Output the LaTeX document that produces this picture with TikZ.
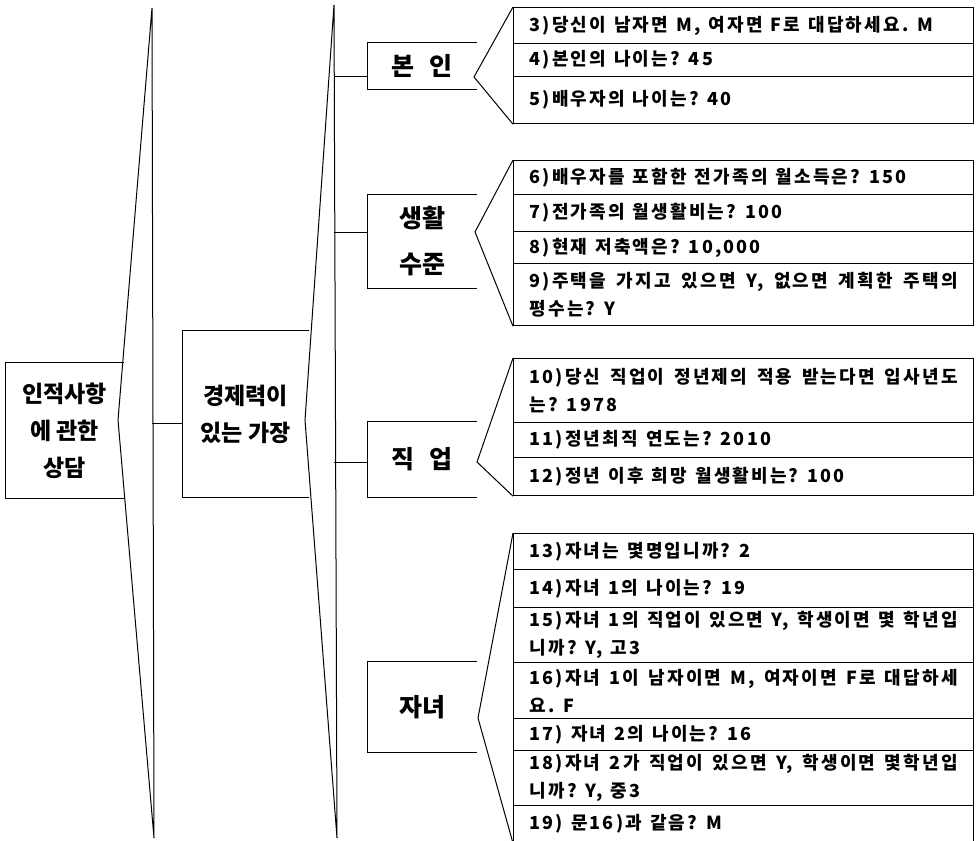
\documentclass[tikz,border=0pt]{standalone}
\usepackage{fontspec}
\setmainfont{Noto Sans CJK KR}
\newfontfamily\krwide{Noto Sans CJK KR}[LetterSpace=12]
\usetikzlibrary{positioning}
\newcommand{\spread}[1]{\hbox to 428pt{\spaceskip=0.25em plus 1fil\relax #1}}
\newcommand{\widespace}{\spaceskip=0.45em\relax}

\begin{document}
\begin{tikzpicture}[x=1pt, y=-1pt, line width=1pt,
        openbox/.style={draw=none, inner sep=0pt},
        bigtext/.style={font=\bfseries\fontsize{23}{37}\selectfont, align=center},
        labtext/.style={font=\bfseries\fontsize{25}{46}\selectfont, align=center},
        row/.style={draw, line width=1.2pt, anchor=north west, minimum width=460pt,
            text width=428pt, inner xsep=16pt, inner ysep=0pt, align=left,
            font=\krwide\bfseries\fontsize{18}{28}\selectfont,
            execute at begin node=\widespace}]

        \useasboundingbox (0,0) rectangle (976,840);

        % Big brackets
        \coordinate (t1) at (152,8);
        \coordinate (p1) at (118,420);
        \coordinate (b1) at (154,838);
        \draw (t1) -- (p1) -- (b1) -- cycle;
        \coordinate (t2) at (334,5);
        \coordinate (p2) at (305,420);
        \coordinate (b2) at (337,838);
        \draw (t2) -- (p2) -- (b2) -- cycle;

        % Left boxes
        \node[openbox, bigtext, minimum width=117pt, minimum height=135pt] (sangdam) at (64.5,430.5) {인적사항\\에 관한\\상담};
        \node[openbox, bigtext, minimum width=125pt, minimum height=166pt] (gajang) at (245.5,414) {경제력이\\있는 가장};
        \coordinate (k0) at (183,423);
        \draw (t1 |- k0) -- (k0);

        % Group boxes
        \node[openbox, labtext, minimum width=108pt, minimum height=46pt] (bonin) at (422,66) {본\hspace{0.6em}인};
        \node[openbox, labtext, minimum width=108pt, minimum height=93pt] (saenghwal) at (422,241.5) {생활\\수준};
        \node[openbox, labtext, minimum width=108pt, minimum height=75pt] (jigeop) at (422,459.5) {직\hspace{0.6em}업};
        \node[openbox, labtext, minimum width=108pt, minimum height=90pt] (janyeo) at (422,707) {자녀};
        \foreach \b in {sangdam, gajang, bonin, saenghwal, jigeop, janyeo}
            \draw (\b.north east) -- (\b.north west) -- (\b.south west) -- (\b.south east);

        % Connectors
        \coordinate (vA) at (474,77);
        \coordinate (vB) at (475,232);
        \coordinate (vC) at (477,462);
        \coordinate (vD) at (478,718);
        \draw (t2 |- vA) -- (bonin.west |- vA);
        \draw (t2 |- vB) -- (saenghwal.west |- vB);
        \draw (t2 |- vC) -- (jigeop.west |- vC);

        % Answer rows
        \foreach \n/\y/\h/\t in {
            3/7/36/{3)당신이 남자면 M, 여자면 F로 대답하세요. M},
            4/43/33/{4)본인의 나이는? 45},
            5/76/47/{5)배우자의 나이는? 40},
            6/160/34/{6)배우자를 포함한 전가족의 월소득은? 150},
            7/194/37/{7)전가족의 월생활비는? 100},
            8/231/32/{8)현재 저축액은? 10,000},
            9/263/62/{\spread{9)주택을 가지고 있으면 Y, 없으면 계획한 주택의}\\평수는? Y},
            10/358/64/{\spread{10)당신 직업이 정년제의 적용 받는다면 입사년도}\\는? 1978},
            11/422/35/{11)정년최직 연도는? 2010},
            12/457/38/{12)정년 이후 희망 월생활비는? 100},
            13/533/36/{13)자녀는 몇명입니까? 2},
            14/569/38/{14)자녀 1의 나이는? 19},
            15/607/55/{\spread{15)자녀 1의 직업이 있으면 Y, 학생이면 몇 학년입}\\니까? Y, 고3},
            16/662/56/{\spread{16)자녀 1이 남자이면 M, 여자이면 F로 대답하세}\\요. F},
            17/718/32/{17) 자녀 2의 나이는? 16},
            18/750/55/{\spread{18)자녀 2가 직업이 있으면 Y, 학생이면 몇학년입}\\니까? Y, 중3},
            19/805/37/{19) 문16)과 같음? M}}
            \node[row, minimum height=\h pt] (r\n) at (513,\y) {\t};

        % Angles to the rows
        \draw (r3.north west) -- (vA) -- (r5.south west);
        \draw (r6.north west) -- (vB) -- (r9.south west);
        \draw (r10.north west) -- (vC) -- (r12.south west);
        \draw (r13.north west) -- (vD) -- (r19.south west);

\end{tikzpicture}
\end{document}
